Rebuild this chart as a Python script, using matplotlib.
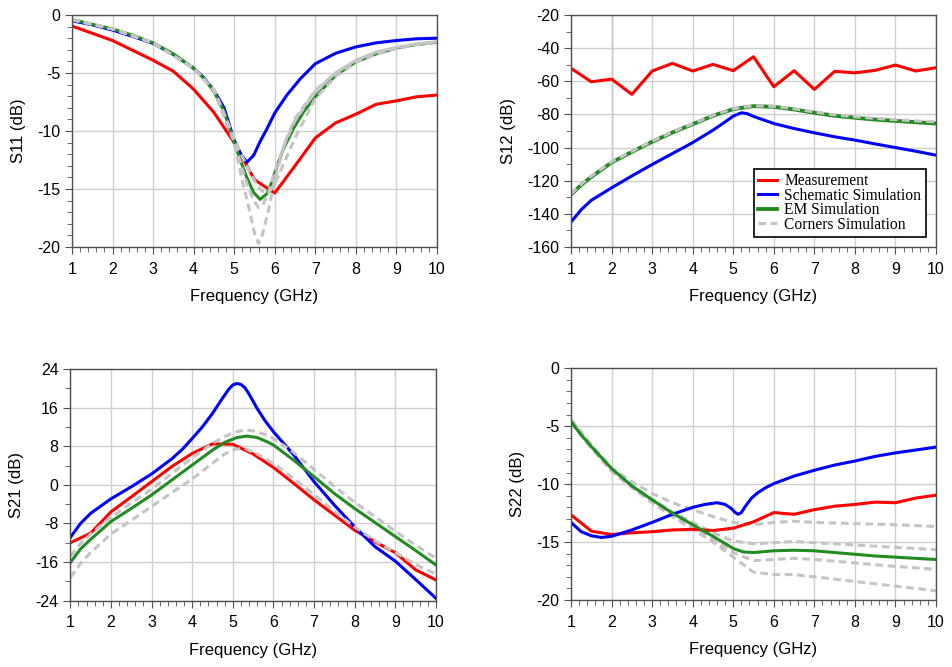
import numpy as np
import matplotlib
matplotlib.use("Agg")
import matplotlib.pyplot as plt
from matplotlib.ticker import MultipleLocator

plt.rcParams['font.family'] = ['Liberation Sans', 'DejaVu Sans']
plt.rcParams['axes.unicode_minus'] = False

# ---------------- data ----------------
f_meas = [1, 1.5, 2, 2.5, 3, 3.5, 4, 4.5, 5, 5.5, 6, 6.5, 7, 7.5, 8, 8.5, 9, 9.5, 10]

# S11
s11_meas_f = [1, 2, 3, 3.5, 4, 4.5, 5, 5.5, 6, 6.5, 7, 7.5, 8, 8.5, 9, 9.5, 10]
s11_meas = [-0.95, -2.2, -3.9, -4.85, -6.4, -8.4, -11.0, -14.2, -15.35, -13.0, -10.6,
            -9.3, -8.55, -7.7, -7.4, -7.05, -6.9]
s11_sch_f = [1, 1.5, 2, 2.5, 3, 3.5, 4, 4.25, 4.5, 4.75, 5, 5.15, 5.31, 5.48, 5.64, 5.81,
             6, 6.3, 6.63, 7, 7.5, 8, 8.5, 9, 9.5, 10]
s11_sch = [-0.5, -0.85, -1.3, -1.85, -2.45, -3.4, -4.6, -5.4, -6.5, -8.0, -10.8, -11.9,
           -12.7, -12.1, -10.9, -9.8, -8.45, -6.9, -5.5, -4.2, -3.3, -2.75, -2.4, -2.2,
           -2.05, -2.0]
s11_em_f = [1, 1.5, 2, 2.5, 3, 3.5, 4, 4.25, 4.5, 4.75, 4.99, 5.15, 5.31, 5.48, 5.64,
            5.81, 5.93, 6.05, 6.22, 6.46, 6.71, 7, 7.5, 8, 8.5, 9, 9.5, 10]
s11_em = [-0.4, -0.8, -1.2, -1.75, -2.4, -3.35, -4.6, -5.45, -6.6, -8.3, -10.9, -12.5,
          -14.0, -15.3, -15.9, -15.4, -14.4, -13.1, -11.5, -9.8, -8.35, -7.05, -5.2,
          -4.05, -3.35, -2.85, -2.55, -2.35]
s11_cor_f = [1, 2, 3, 4, 4.5, 5, 5.2, 5.35, 5.5, 5.6, 5.7, 5.85, 6, 6.25, 6.5, 7, 7.5,
             8, 8.5, 9, 9.5, 10]
s11_cor1 = [-0.4, -1.2, -2.4, -4.6, -6.5, -11.0, -14.3, -16.4, -18.8, -19.7, -18.9, -16.8,
            -14.2, -11.0, -8.9, -6.5, -5.0, -3.9, -3.2, -2.8, -2.5, -2.3]
s11_cor2 = [-0.4, -1.2, -2.4, -4.6, -6.5, -10.9, -13.3, -14.9, -16.1, -16.6, -16.4, -15.3,
            -13.5, -11.1, -9.1, -6.6, -5.0, -3.9, -3.2, -2.8, -2.5, -2.3]
s11_cor3 = [-0.4, -1.2, -2.4, -4.6, -6.4, -10.6, -12.2, -13.3, -14.3, -14.8, -15.2, -15.3,
            -14.6, -12.6, -10.6, -7.2, -5.3, -4.1, -3.35, -2.9, -2.55, -2.35]

# S12
s12_meas = [-52.2, -60.3, -58.7, -67.9, -53.8, -49.2, -53.8, -49.8, -53.6, -45.2, -63.3,
            -53.6, -64.9, -54.0, -54.9, -53.4, -50.2, -53.8, -51.8]
s12_sch_f = [1, 1.25, 1.5, 2, 2.5, 3, 3.5, 4, 4.5, 4.8, 5, 5.2, 5.35, 5.5, 6, 6.5, 7, 7.5,
             8, 8.5, 9, 9.5, 10]
s12_sch = [-144.9, -137.5, -131.8, -124.3, -117.1, -110.2, -103.6, -97.0, -89.5, -84.5,
           -81.0, -79.0, -79.6, -81.2, -85.5, -88.5, -91.1, -93.5, -95.5, -97.8, -100.0,
           -102.2, -104.6]
s12_em_f = [1, 1.25, 1.5, 2, 2.5, 3, 3.5, 4, 4.5, 5, 5.5, 6, 6.5, 7, 7.5, 8, 8.5, 9, 9.5, 10]
s12_em = [-128.4, -122.5, -117.7, -109.0, -102.6, -96.5, -90.9, -85.9, -80.8, -76.8, -75.0,
          -75.4, -77.0, -79.0, -80.8, -82.0, -83.1, -83.9, -84.7, -85.5]
s12_cor = [-128.0, -122.0, -117.2, -108.6, -102.3, -96.2, -90.6, -85.6, -80.6, -76.6, -74.8,
           -75.1, -76.6, -78.5, -80.2, -81.4, -82.4, -83.2, -83.9, -84.5]

# S21
s21_f = [1, 1.5, 2, 2.5, 3, 3.5, 4, 4.5, 5, 5.5, 6, 6.5, 7, 7.5, 8, 8.5, 9, 9.5, 10]
s21_meas = [-12.0, -10.0, -5.6, -2.5, 0.65, 3.8, 6.5, 8.5, 8.4, 6.4, 3.6, 0.3, -3.1, -6.25,
            -9.4, -11.8, -14.05, -17.6, -19.7]
s21_sch_f = [1, 1.25, 1.5, 2, 2.5, 3, 3.5, 3.75, 4, 4.25, 4.5, 4.75, 4.9, 5.0, 5.1, 5.2,
             5.3, 5.4, 5.6, 5.8, 6, 6.25, 6.5, 7, 7.5, 8, 8.5, 9, 9.5, 10]
s21_sch = [-10.9, -8.0, -5.9, -2.9, -0.4, 2.25, 5.4, 7.3, 9.6, 12.0, 14.8, 18.0, 19.8, 20.7,
           21.0, 20.8, 20.1, 18.8, 15.8, 13.2, 11.0, 8.6, 6.2, 0.65, -4.2, -8.7, -12.8,
           -15.8, -19.6, -23.5]
s21_em_f = [1, 1.25, 1.5, 2, 2.5, 3, 3.5, 4, 4.5, 4.8, 5.1, 5.35, 5.6, 5.85, 6, 6.5, 7,
            7.5, 8, 8.5, 9, 9.5, 10]
s21_em = [-16.1, -13.3, -11.3, -7.6, -4.9, -2.1, 1.0, 4.1, 7.2, 8.8, 9.8, 10.1, 9.8, 8.9,
          8.25, 5.1, 1.7, -1.8, -4.9, -7.8, -10.7, -13.6, -16.6]
s21_cor1_f = [1, 1.25, 1.5, 2, 3, 4, 4.5, 4.8, 5.05, 5.3, 5.55, 5.8, 6, 6.5, 7, 7.5, 8,
              8.5, 9, 9.5, 10]
s21_cor1 = [-14.8, -12.2, -10.2, -6.7, -0.9, 5.6, 8.6, 10.0, 10.9, 11.4, 11.1, 10.4, 9.6,
            6.7, 3.2, -0.3, -3.6, -6.6, -9.6, -12.5, -15.2]
s21_cor2_f = [1, 1.25, 1.5, 2, 3, 3.5, 4, 4.5, 4.8, 5.05, 5.3, 5.6, 6, 6.5, 7, 7.5, 8,
              8.5, 9, 9.5, 10]
s21_cor2 = [-19.2, -16.3, -14.0, -10.2, -4.5, -1.6, 1.2, 4.5, 6.4, 7.4, 7.5, 6.4, 4.4,
            1.3, -2.0, -5.5, -8.7, -11.6, -14.0, -16.5, -18.5]

# S22
s22_meas = [-12.65, -14.05, -14.35, -14.2, -14.1, -13.95, -13.9, -14.0, -13.8, -13.25, -12.45,
            -12.6, -12.2, -11.9, -11.75, -11.55, -11.6, -11.2, -10.95]
s22_sch_f = [1, 1.25, 1.5, 1.75, 2, 2.5, 3, 3.5, 4, 4.3, 4.6, 4.8, 4.95, 5.05, 5.12, 5.2,
             5.3, 5.45, 5.6, 5.8, 6, 6.5, 7, 7.5, 8, 8.5, 9, 9.5, 10]
s22_sch = [-13.3, -14.1, -14.45, -14.6, -14.5, -13.95, -13.3, -12.6, -12.0, -11.75, -11.6,
           -11.75, -12.1, -12.45, -12.6, -12.45, -11.9, -11.2, -10.75, -10.3, -9.95, -9.3,
           -8.8, -8.35, -8.0, -7.6, -7.3, -7.05, -6.8]
s22_em_f = [1, 1.25, 1.5, 2, 2.5, 3, 3.5, 4, 4.5, 5, 5.25, 5.5, 6, 6.5, 7, 7.5, 8, 8.5, 9,
            9.5, 10]
s22_em = [-4.6, -5.75, -6.75, -8.65, -10.15, -11.35, -12.5, -13.5, -14.5, -15.55, -15.85,
          -15.9, -15.75, -15.7, -15.75, -15.9, -16.05, -16.2, -16.3, -16.4, -16.5]
s22_cor_f = [1, 1.5, 2, 2.5, 3, 3.5, 4, 4.5, 5, 5.5, 6, 6.5, 7, 8, 9, 10]
s22_cor1 = [-4.4, -6.6, -8.6, -9.8, -10.8, -11.6, -12.2, -12.8, -13.3, -13.5, -13.3, -13.2,
            -13.3, -13.4, -13.5, -13.65]
s22_cor2 = [-4.5, -6.7, -8.7, -10.1, -11.3, -12.4, -13.3, -14.2, -14.9, -15.15, -15.05, -14.95,
            -15.05, -15.25, -15.45, -15.65]
s22_cor3 = [-4.6, -6.8, -8.8, -10.2, -11.5, -12.7, -13.7, -14.8, -15.9, -16.6, -16.5, -16.4,
            -16.5, -16.8, -17.1, -17.35]
s22_cor4 = [-4.7, -6.9, -8.9, -10.3, -11.6, -12.8, -13.9, -15.0, -16.3, -17.6, -17.8, -17.8,
            -18.0, -18.4, -18.8, -19.2]

RED = '#ff0000'
BLUE = '#0000ff'
GREEN = '#228b22'
GRAY = '#c4c4c4'
LW = 2.2

fig = plt.figure(figsize=(9.53, 6.67), dpi=100)
ax11 = fig.add_axes([0.0755, 0.6297, 0.383, 0.3478])
ax12 = fig.add_axes([0.5992, 0.6297, 0.383, 0.3478])
ax21 = fig.add_axes([0.0738, 0.0994, 0.3836, 0.3474])
ax22 = fig.add_axes([0.5992, 0.1004, 0.383, 0.3474])


def style(ax, ylim, major, minor, ylabel):
    ax.set_xlim(1, 10)
    ax.set_ylim(*ylim)
    ax.xaxis.set_major_locator(MultipleLocator(1))
    ax.xaxis.set_minor_locator(MultipleLocator(0.2))
    ax.yaxis.set_major_locator(MultipleLocator(major))
    ax.yaxis.set_minor_locator(MultipleLocator(minor))
    ax.grid(True, which='major', color='#cfcfcf', lw=1.0)
    ax.set_axisbelow(True)
    for s in ax.spines.values():
        s.set_color('#505050')
        s.set_linewidth(1.0)
    ax.tick_params(which='both', direction='out', colors='#505050', labelcolor='black',
                   labelsize=11.5, top=False, right=False)
    ax.tick_params(which='major', length=5)
    ax.tick_params(which='minor', length=3.5)
    ax.tick_params(axis='x', which='major', pad=5.5)
    ax.set_xlabel('Frequency (GHz)', fontsize=12, labelpad=9)
    ax.set_ylabel(ylabel, fontsize=12, labelpad=8)


dash = dict(color=GRAY, lw=LW, ls=(0, (2.5, 1.5)))

# S11
ax11.plot(s11_meas_f, s11_meas, color=RED, lw=LW)
ax11.plot(s11_sch_f, s11_sch, color=BLUE, lw=LW)
ax11.plot(s11_em_f, s11_em, color=GREEN, lw=LW)
for c in (s11_cor1, s11_cor2, s11_cor3):
    ax11.plot(s11_cor_f, c, **dash)
style(ax11, (-20, 0), 5, 1, 'S11 (dB)')

# S12
ax12.axvline(2, color='#8a8a8a', lw=1.0, zorder=0.5)
ax12.plot(f_meas, s12_meas, color=RED, lw=LW, label='Measurement')
ax12.plot(s12_sch_f, s12_sch, color=BLUE, lw=LW, label='Schematic Simulation')
ax12.plot(s12_em_f, s12_em, color=GREEN, lw=LW + 0.6, label='EM Simulation')
ax12.plot(s12_em_f, s12_cor, label='Corners Simulation', **dash)
style(ax12, (-160, -20), 20, 10, 'S12 (dB)')
leg = ax12.legend(loc='lower right', bbox_to_anchor=(0.972, 0.042), frameon=True,
                  fancybox=False, edgecolor='black', framealpha=1,
                  prop={'family': 'Liberation Serif', 'size': 11.2},
                  handlelength=1.2, handletextpad=0.45, labelspacing=-0.1,
                  borderpad=0.3, borderaxespad=0)
leg.get_frame().set_linewidth(1.2)

# S21
ax21.plot(s21_f, s21_meas, color=RED, lw=LW)
ax21.plot(s21_sch_f, s21_sch, color=BLUE, lw=LW)
ax21.plot(s21_em_f, s21_em, color=GREEN, lw=LW)
ax21.plot(s21_cor1_f, s21_cor1, **dash)
ax21.plot(s21_cor2_f, s21_cor2, **dash)
style(ax21, (-24, 24), 8, 4, 'S21 (dB)')

# S22
for c in (s22_cor1, s22_cor2, s22_cor3, s22_cor4):
    ax22.plot(s22_cor_f, c, **dash)
ax22.plot(f_meas, s22_meas, color=RED, lw=LW)
ax22.plot(s22_sch_f, s22_sch, color=BLUE, lw=LW)
ax22.plot(s22_em_f, s22_em, color=GREEN, lw=LW)
style(ax22, (-20, 0), 5, 1, 'S22 (dB)')

fig.savefig('out.png', dpi=100)
